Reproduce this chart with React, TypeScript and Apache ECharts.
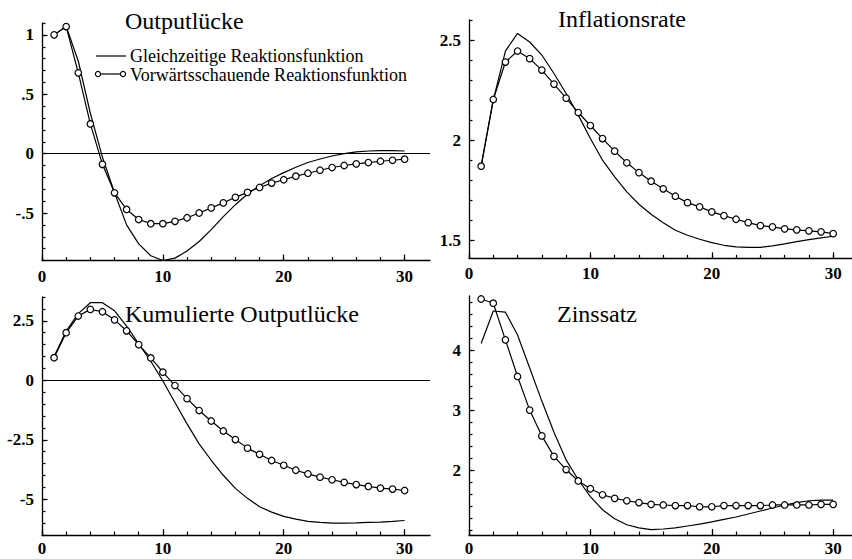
import { useEffect, useRef } from "react";
import * as echarts from "echarts";

// ---- data ----
const periods = [1, 2, 3, 4, 5, 6, 7, 8, 9, 10, 11, 12, 13, 14, 15, 16, 17, 18, 19, 20, 21, 22, 23, 24, 25, 26, 27, 28, 29, 30];

const seriesNames = ["Gleichzeitige Reaktionsfunktion", "Vorwärtsschauende Reaktionsfunktion"];
const panelTitles = ["Outputlücke", "Inflationsrate", "Kumulierte Outputlücke", "Zinssatz"];

const outputGapContemp = [1.0, 1.07, 0.78, 0.34, -0.03, -0.33, -0.6, -0.76, -0.86, -0.9, -0.88, -0.82, -0.74, -0.64, -0.53, -0.43, -0.34, -0.27, -0.21, -0.16, -0.115, -0.075, -0.045, -0.02, 0.0, 0.015, 0.022, 0.025, 0.025, 0.022];
const outputGapForward = [1.0, 1.07, 0.68, 0.25, -0.09, -0.33, -0.47, -0.555, -0.59, -0.59, -0.57, -0.54, -0.5, -0.457, -0.415, -0.368, -0.326, -0.285, -0.248, -0.22, -0.19, -0.165, -0.14, -0.117, -0.1, -0.086, -0.075, -0.064, -0.056, -0.047];

const inflationContemp = [1.87, 2.2, 2.445, 2.533, 2.49, 2.425, 2.333, 2.233, 2.125, 2.008, 1.9, 1.817, 1.742, 1.68, 1.63, 1.587, 1.55, 1.525, 1.505, 1.488, 1.475, 1.467, 1.465, 1.465, 1.472, 1.482, 1.493, 1.503, 1.512, 1.52];
const inflationForward = [1.87, 2.203, 2.39, 2.445, 2.407, 2.35, 2.28, 2.21, 2.138, 2.073, 2.008, 1.945, 1.887, 1.838, 1.795, 1.757, 1.72, 1.688, 1.667, 1.642, 1.623, 1.605, 1.588, 1.573, 1.567, 1.557, 1.552, 1.547, 1.542, 1.533];

const cumGapContemp = [1.0, 2.07, 2.8, 3.26, 3.26, 2.92, 2.28, 1.53, 0.8, -0.03, -0.93, -1.83, -2.67, -3.36, -3.99, -4.54, -4.96, -5.31, -5.54, -5.72, -5.83, -5.93, -5.97, -6.0, -6.0, -5.99, -5.97, -5.96, -5.93, -5.89];
const cumGapForward = [0.95, 2.0, 2.7, 2.98, 2.88, 2.54, 2.08, 1.5, 0.94, 0.34, -0.22, -0.77, -1.27, -1.71, -2.13, -2.49, -2.85, -3.11, -3.37, -3.57, -3.78, -3.93, -4.07, -4.18, -4.29, -4.38, -4.46, -4.53, -4.57, -4.63];

const rateContemp = [4.11, 4.65, 4.63, 4.25, 3.7, 3.15, 2.63, 2.17, 1.84, 1.56, 1.34, 1.19, 1.09, 1.04, 1.01, 1.02, 1.04, 1.07, 1.1, 1.14, 1.18, 1.22, 1.27, 1.32, 1.37, 1.42, 1.46, 1.49, 1.5, 1.5];
const rateForward = [4.85, 4.78, 4.17, 3.56, 3.0, 2.57, 2.23, 2.01, 1.82, 1.69, 1.59, 1.53, 1.49, 1.46, 1.43, 1.42, 1.41, 1.41, 1.39, 1.39, 1.41, 1.41, 1.41, 1.41, 1.42, 1.42, 1.42, 1.42, 1.43, 1.43];

// tick labels
const xTickLabels = [0, 10, 20, 30];
const outputGapTickLabels = [-0.5, 0, 0.5, 1];
const inflationTickLabels = [1.5, 2, 2.5];
const cumGapTickLabels = [-5, -2.5, 0, 2.5];
const rateTickLabels = [2, 3, 4];

const FONT = '"Liberation Serif", "Times New Roman", Times, serif';

function steps(a: number, b: number, s: number): number[] {
  const out: number[] = [];
  const n = Math.round((b - a) / s);
  for (let i = 0; i <= n; i++) out.push(+(a + i * s).toFixed(4));
  return out;
}

type Panel = {
  grid: { left: number; top: number; width: number; height: number };
  xMax: number;
  yMin: number;
  yMax: number;
  yMajor: number[];
  yMinor: number[];
  contemp: number[];
  forward: number[];
  zero: boolean;
  xLabelMargin: number;
  fmt: (v: number) => string;
};

const panels: Panel[] = [
  {
    grid: { left: 42, top: 23, width: 388, height: 237.5 },
    xMax: 32.1, yMin: -0.9, yMax: 1.1,
    yMajor: outputGapTickLabels, yMinor: steps(-0.9, 1.1, 0.1),
    contemp: outputGapContemp, forward: outputGapForward, zero: true, xLabelMargin: 7,
    fmt: (v) => String(v).replace(/^(-?)0\./, "$1."),
  },
  {
    grid: { left: 469, top: 20, width: 383, height: 238.3 },
    xMax: 31.55, yMin: 1.41, yMax: 2.6,
    yMajor: inflationTickLabels, yMinor: steps(1.5, 2.6, 0.1),
    contemp: inflationContemp, forward: inflationForward, zero: false, xLabelMargin: 7,
    fmt: (v) => String(v),
  },
  {
    grid: { left: 42, top: 297, width: 388, height: 238 },
    xMax: 32.1, yMin: -6.5, yMax: 3.5,
    yMajor: cumGapTickLabels, yMinor: steps(-6.5, 3.5, 0.5),
    contemp: cumGapContemp, forward: cumGapForward, zero: true, xLabelMargin: 5,
    fmt: (v) => String(v),
  },
  {
    grid: { left: 469, top: 296, width: 383, height: 239 },
    xMax: 31.55, yMin: 0.92, yMax: 4.9,
    yMajor: rateTickLabels, yMinor: steps(1.0, 4.8, 0.2),
    contemp: rateContemp, forward: rateForward, zero: false, xLabelMargin: 5,
    fmt: (v) => String(v),
  },
];

const xMinorTicks = steps(0, 30, 2);

const titlePos = [
  { x: 125, y: 20.5 },
  { x: 558, y: 18.8 },
  { x: 125, y: 313.6 },
  { x: 557, y: 313.6 },
];

export default function App() {
  const ref = useRef<HTMLDivElement>(null);

  useEffect(() => {
    if (!ref.current) return;
    const chart = echarts.init(ref.current, null, { renderer: "svg" });

    const black = "#000";
    const labelStyle = {
      color: black,
      fontFamily: FONT,
      fontSize: 17,
      fontWeight: "bold" as const,
    };

    const grids: any[] = [];
    const xAxes: any[] = [];
    const yAxes: any[] = [];
    const series: any[] = [];

    panels.forEach((p, i) => {
      grids.push({ ...p.grid, containLabel: false, outerBoundsMode: "none" });
      // minor x axis (with axis line)
      xAxes.push({
        type: "value", gridIndex: i, min: 0, max: p.xMax, position: "bottom",
        axisLine: { show: true, onZero: false, lineStyle: { color: black, width: 1.3 } },
        axisTick: { show: true, inside: true, length: 3.5, customValues: xMinorTicks, lineStyle: { color: black, width: 1.2 } },
        axisLabel: { show: false, customValues: xMinorTicks },
        splitLine: { show: false },
      });
      // major x axis (labels + long ticks)
      xAxes.push({
        type: "value", gridIndex: i, min: 0, max: p.xMax, position: "bottom",
        axisLine: { show: false, onZero: false },
        axisTick: { show: true, inside: true, length: 6, customValues: xTickLabels, lineStyle: { color: black, width: 1.2 } },
        axisLabel: { show: true, customValues: xTickLabels, margin: p.xLabelMargin, ...labelStyle },
        splitLine: { show: false },
      });
      yAxes.push({
        type: "value", gridIndex: i, min: p.yMin, max: p.yMax, position: "left",
        axisLine: { show: true, onZero: false, lineStyle: { color: black, width: 1.3 } },
        axisTick: { show: true, inside: true, length: 3.5, customValues: p.yMinor, lineStyle: { color: black, width: 1.2 } },
        axisLabel: { show: false, customValues: p.yMinor },
        splitLine: { show: false },
      });
      yAxes.push({
        type: "value", gridIndex: i, min: p.yMin, max: p.yMax, position: "left",
        axisLine: { show: false, onZero: false },
        axisTick: { show: true, inside: true, length: 5.5, customValues: p.yMajor, lineStyle: { color: black, width: 1.2 } },
        axisLabel: { show: true, customValues: p.yMajor, margin: 8, formatter: p.fmt, ...labelStyle },
        splitLine: { show: false },
      });

      series.push({
        type: "line", name: seriesNames[0], xAxisIndex: 2 * i, yAxisIndex: 2 * i,
        data: periods.map((t, k) => [t, p.contemp[k]]),
        symbol: "none", showSymbol: false, silent: true,
        lineStyle: { color: black, width: 1.2 },
        z: 3,
      });
      series.push({
        type: "line", name: seriesNames[1], xAxisIndex: 2 * i, yAxisIndex: 2 * i,
        data: periods.map((t, k) => [t, p.forward[k]]),
        symbol: "circle", symbolSize: 6.5, showSymbol: true, silent: true,
        itemStyle: { color: "#fff", borderColor: black, borderWidth: 1.2 },
        lineStyle: { color: black, width: 1.2 },
        z: 4,
        markLine: p.zero
          ? {
              silent: true, symbol: "none", label: { show: false },
              lineStyle: { color: black, width: 1.2, type: "solid" },
              data: [{ yAxis: 0 }],
            }
          : undefined,
      });
    });

    const graphics: any[] = [];
    panelTitles.forEach((t, i) => {
      graphics.push({
        type: "text", x: titlePos[i].x, y: titlePos[i].y, silent: true,
        style: { text: t, fill: black, font: `24px ${FONT}`, textAlign: "left", textVerticalAlign: "middle" },
      });
    });
    // legend (drawn by hand, as in the reference)
    graphics.push({ type: "line", shape: { x1: 96, y1: 56, x2: 126, y2: 56 }, style: { stroke: black, lineWidth: 1.2 }, silent: true });
    graphics.push({ type: "line", shape: { x1: 98, y1: 74, x2: 123, y2: 74 }, style: { stroke: black, lineWidth: 1.2 }, silent: true });
    graphics.push({ type: "circle", shape: { cx: 98, cy: 74, r: 2.6 }, style: { fill: "#fff", stroke: black, lineWidth: 1.2 }, silent: true, z: 10 });
    graphics.push({ type: "circle", shape: { cx: 123, cy: 74, r: 2.6 }, style: { fill: "#fff", stroke: black, lineWidth: 1.2 }, silent: true, z: 10 });
    graphics.push({
      type: "text", x: 130, y: 56, silent: true,
      style: { text: seriesNames[0], fill: black, font: `18px ${FONT}`, textAlign: "left", textVerticalAlign: "middle" },
    });
    graphics.push({
      type: "text", x: 130, y: 74.5, silent: true,
      style: { text: seriesNames[1], fill: black, font: `18px ${FONT}`, textAlign: "left", textVerticalAlign: "middle" },
    });

    chart.setOption({
      animation: false,
      backgroundColor: "#fff",
      textStyle: { fontFamily: FONT },
      grid: grids,
      xAxis: xAxes,
      yAxis: yAxes,
      series,
      graphic: graphics,
    });

    return () => chart.dispose();
  }, []);

  return (
    <div
      ref={ref}
      style={{ position: "absolute", left: 0, top: 0, width: 852, height: 559, background: "#fff" }}
    />
  );
}
